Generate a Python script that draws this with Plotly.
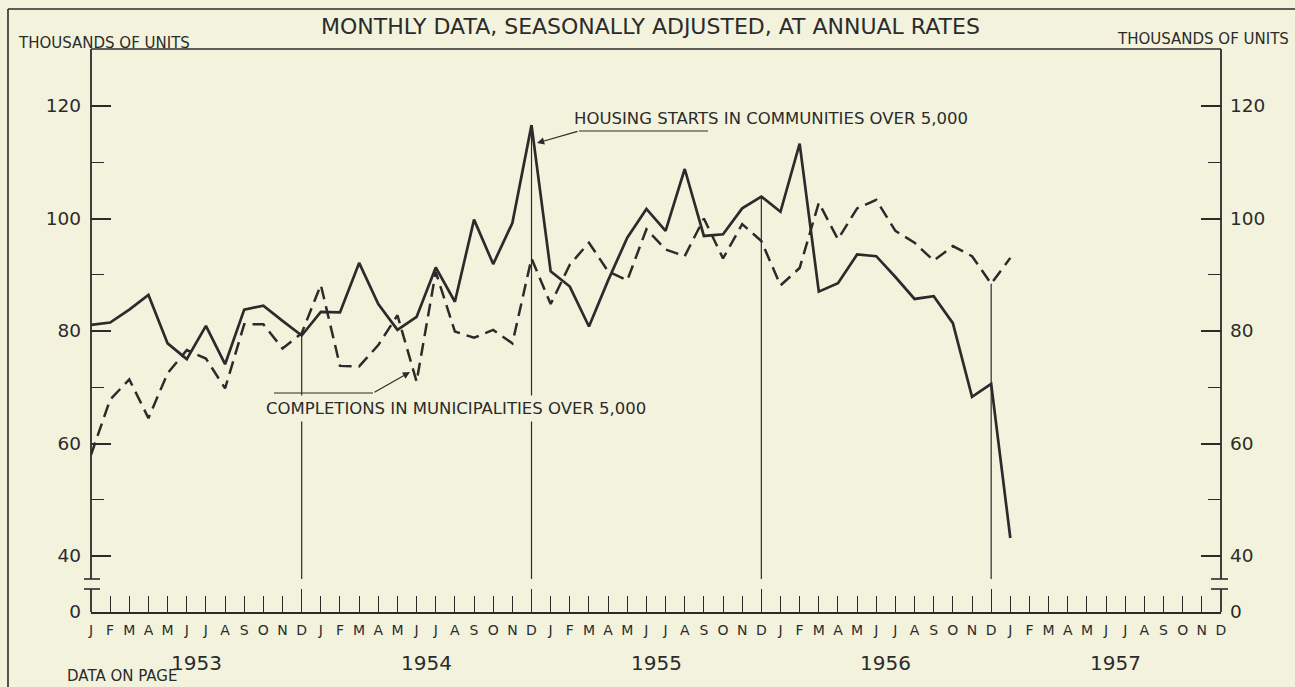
import plotly.graph_objects as go

# ---------------- data ----------------
months = ["J", "F", "M", "A", "M", "J", "J", "A", "S", "O", "N", "D"]
years = ["1953", "1954", "1955", "1956", "1957"]

# Housing starts in communities over 5,000 (thousands of units), Jan 1953 - Jan 1957
starts = [81.1, 81.5, 83.8, 86.4, 77.8, 75.0, 80.9, 74.1, 83.8, 84.5, 81.8, 79.2,
          83.4, 83.3, 92.1, 84.8, 80.2, 82.5, 91.3, 85.2, 99.8, 91.9, 99.2, 116.6,
          90.6, 87.9, 80.8, 89.0, 96.6, 101.7, 97.8, 108.8, 96.9, 97.2, 101.8, 103.9,
          101.2, 113.3, 87.0, 88.5, 93.6, 93.3, 89.6, 85.7, 86.2, 81.4, 68.3, 70.6,
          43.2]

# Completions in municipalities over 5,000 (thousands of units), Jan 1953 - Jan 1957
completions = [58.0, 67.8, 71.4, 64.5, 72.5, 76.6, 75.1, 69.8, 81.2, 81.2, 76.9, 79.6,
               88.2, 73.8, 73.7, 77.5, 82.8, 71.0, 90.5, 79.9, 78.8, 80.2, 77.8, 92.9,
               84.8, 91.8, 95.7, 90.6, 89.0, 98.1, 94.5, 93.3, 100.0, 92.9, 99.0, 96.0,
               88.1, 91.2, 102.8, 96.3, 101.8, 103.3, 97.8, 95.7, 92.5, 95.1, 93.3, 88.4,
               93.0]

y_major = [40, 60, 80, 100, 120]
y_minor = [50, 70, 90, 110]

# ---------------- layout constants ----------------
W, H = 1295, 687
L, R = 91, 1221          # plot left/right in px
T, B = 49, 612           # plot top/bottom in px
PX_PER_UNIT = 5.625
Y40_PX = 556
Y0 = 40 - (B - Y40_PX) / PX_PER_UNIT      # axis value drawn as "0"
Y1 = Y0 + (B - T) / PX_PER_UNIT
BRK_HI = 40 - (579 - Y40_PX) / PX_PER_UNIT
BRK_LO = 40 - (589 - Y40_PX) / PX_PER_UNIT
PX_PER_MONTH = (R - L) / 59

INK = "#2b2b2b"
BG = "#f3f3dd"
FONT = "DejaVu Sans"

def pxx(px):
    return (px - L) / (R - L)

def pxy(py):
    return (B - py) / (B - T)

def dx(px):
    return (px - L) / PX_PER_MONTH

def dy(py):
    return 40 + (Y40_PX - py) / PX_PER_UNIT

n_months = len(months) * len(years)
x_all = list(range(n_months))
x_data = list(range(len(starts)))

fig = go.Figure()
fig.add_trace(go.Scatter(x=x_data, y=completions, mode="lines",
                         line=dict(color=INK, width=2.5, dash="13px,7px"),
                         hoverinfo="skip", showlegend=False))
fig.add_trace(go.Scatter(x=x_data, y=starts, mode="lines",
                         line=dict(color=INK, width=2.7),
                         hoverinfo="skip", showlegend=False))
# invisible trace to activate secondary axes
fig.add_trace(go.Scatter(x=[0], y=[Y0], xaxis="x2", yaxis="y2", mode="markers",
                         marker=dict(opacity=0), hoverinfo="skip", showlegend=False))

shapes = []
line_style = dict(color=INK, width=1.8)
# y axis lines with break (left and right)
for xp in (0, 1):
    shapes.append(dict(type="line", xref="paper", yref="y", x0=xp, x1=xp,
                       y0=Y1, y1=BRK_HI, line=line_style))
    shapes.append(dict(type="line", xref="paper", yref="y", x0=xp, x1=xp,
                       y0=BRK_LO, y1=Y0, line=line_style))
    for yb in (BRK_HI, BRK_LO):
        shapes.append(dict(type="line", xref="paper", yref="y", xsizemode="pixel",
                           xanchor=xp, x0=-7 if xp == 0 else -10, x1=9 if xp == 0 else 7,
                           y0=yb, y1=yb, line=dict(color=INK, width=1.6)))
# top line of plot frame
shapes.append(dict(type="line", xref="paper", yref="paper", x0=0, x1=1, y0=1, y1=1,
                   line=dict(color=INK, width=1.6)))
# outer page frame
shapes.append(dict(type="line", xref="paper", yref="paper", x0=pxx(8), x1=pxx(W + 5),
                   y0=pxy(9), y1=pxy(9), line=dict(color=INK, width=1.6)))
shapes.append(dict(type="line", xref="paper", yref="paper", x0=pxx(8), x1=pxx(8),
                   y0=pxy(9), y1=pxy(H + 5), line=dict(color=INK, width=1.6)))
# December reference lines, from the higher series value down to the axis break
for i in range(11, len(starts), 12):
    top = max(starts[i], completions[i])
    shapes.append(dict(type="line", xref="x", yref="y", x0=i, x1=i, y0=top, y1=BRK_HI,
                       line=dict(color=INK, width=1.2), layer="below"))

# leader lines for labels
lab1_tail = (dx(579), dy(131))
lab1_tip = (dx(537), dy(143))
lab1_end = dx(708)
lab2_tail = (dx(373), dy(393))
lab2_tip = (dx(410), dy(372))
lab2_start = dx(274)
shapes.append(dict(type="line", xref="x", yref="y", x0=lab1_tail[0], x1=lab1_end,
                   y0=lab1_tail[1], y1=lab1_tail[1], line=dict(color=INK, width=1.2)))
shapes.append(dict(type="line", xref="x", yref="y", x0=lab2_start, x1=lab2_tail[0],
                   y0=lab2_tail[1], y1=lab2_tail[1], line=dict(color=INK, width=1.2)))

annotations = []
def txt(text, x, y, size, xanchor="center", xref="paper", yref="paper",
        yanchor="middle", **kw):
    annotations.append(dict(text=text, x=x, y=y, xref=xref, yref=yref, showarrow=False,
                            xanchor=xanchor, yanchor=yanchor,
                            font=dict(family=FONT, size=size, color=INK), **kw))

txt("MONTHLY DATA, SEASONALLY ADJUSTED, AT ANNUAL RATES", pxx(650), pxy(27), 22)
txt("THOUSANDS OF UNITS", pxx(16), pxy(43), 15, xanchor="left")
txt("THOUSANDS OF UNITS", pxx(1291), pxy(39), 15, xanchor="right")
txt("DATA ON PAGE", pxx(65), pxy(687), 15, xanchor="left", yanchor="bottom")
for k, yr in enumerate(years):
    txt(yr, 5.5 + 12 * k, pxy(663), 20, xref="x")
txt("HOUSING STARTS IN COMMUNITIES OVER 5,000", dx(572), dy(118), 16.5,
    xanchor="left", xref="x", yref="y")
txt("COMPLETIONS IN MUNICIPALITIES OVER 5,000", dx(262), dy(408), 16.5,
    xanchor="left", xref="x", yref="y", bgcolor=BG, borderpad=3)

for tip, tail in ((lab1_tip, lab1_tail), (lab2_tip, lab2_tail)):
    annotations.append(dict(text="", x=tip[0], y=tip[1], ax=tail[0], ay=tail[1],
                            xref="x", yref="y", axref="x", ayref="y", showarrow=True,
                            arrowhead=2, arrowsize=1.2, arrowwidth=1.2, arrowcolor=INK))

ytickvals = [Y0] + y_major
yticktext = ["0"] + [str(v) for v in y_major]
yax_common = dict(range=[Y0, Y1], tickvals=ytickvals, ticktext=yticktext,
                  ticks="inside", ticklen=20, tickwidth=1.6, tickcolor=INK,
                  minor=dict(tickvals=y_minor, ticks="inside", ticklen=13,
                             tickwidth=1.4, tickcolor=INK),
                  showline=False, showgrid=False, zeroline=False,
                  tickfont=dict(family=FONT, size=18.5, color=INK), fixedrange=True)

fig.update_layout(
    width=W, height=H, autosize=False,
    margin=dict(l=L, r=W - R, t=T, b=H - B, pad=0),
    paper_bgcolor=BG, plot_bgcolor=BG,
    showlegend=False,
    xaxis=dict(range=[0, n_months - 1], tickvals=x_all, ticktext=months * len(years),
               ticks="inside", ticklen=16, tickwidth=1.4, tickcolor=INK,
               showline=True, linecolor=INK, linewidth=2, showgrid=False, zeroline=False,
               tickfont=dict(family=FONT, size=14, color=INK), ticklabelstandoff=4,
               fixedrange=True),
    xaxis2=dict(range=[0, n_months - 1], overlaying="x", anchor="y2", side="bottom",
                tickvals=list(range(11, n_months, 12)),
                ticktext=[""] * len(years), ticks="inside", ticklen=23, tickwidth=1.4,
                tickcolor=INK, showline=False, showgrid=False, zeroline=False,
                fixedrange=True),
    yaxis=dict(**yax_common, side="left", ticklabelstandoff=9),
    yaxis2=dict(**yax_common, side="right", overlaying="y", anchor="x2",
                ticklabelstandoff=8),
    shapes=shapes,
    annotations=annotations,
)

fig.write_html("out.html", config={"displayModeBar": False},
               post_script="document.body.style.margin='0';"
                           "document.body.style.background='" + BG + "';")
